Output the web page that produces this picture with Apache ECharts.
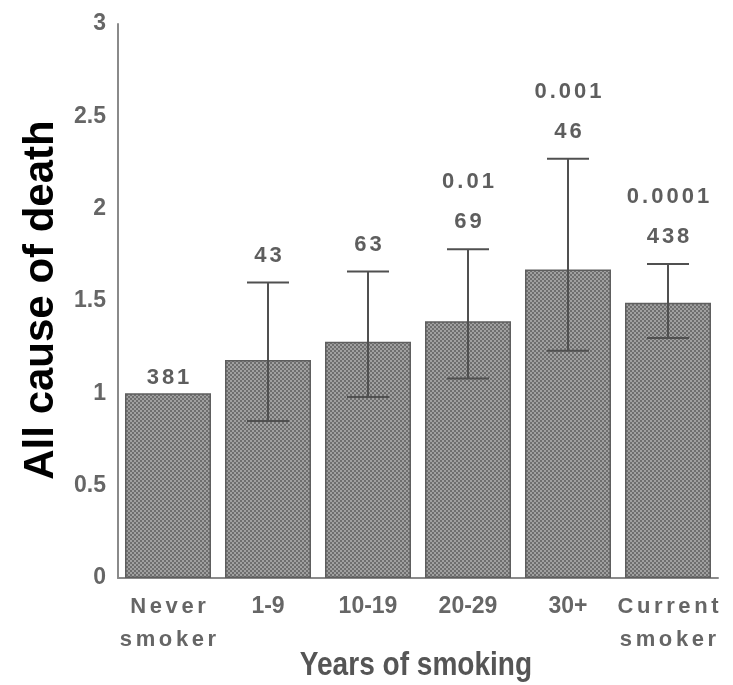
<!DOCTYPE html>
<html>
<head>
<meta charset="utf-8">
<script src="https://cdn.jsdelivr.net/npm/echarts@6/dist/echarts.min.js"></script>
<style>
  html, body { margin: 0; padding: 0; background: #ffffff; }
  #chart { width: 733px; height: 685px; }
</style>
</head>
<body>
<div id="chart"></div>
<script>
// Relative risk of all-cause death by years of smoking
const categories = ['Never\nsmoker', '1-9', '10-19', '20-29', '30+', 'Current\nsmoker'];
const ratios  = [1.00, 1.18, 1.28, 1.39, 1.67, 1.49];
const ciLower = [null, 0.85, 0.98, 1.08, 1.23, 1.30];
const ciUpper = [null, 1.60, 1.66, 1.78, 2.27, 1.70];
const counts  = ['381', '43', '63', '69', '46', '438'];
const pValues = ['', '', '', '0.01', '0.001', '0.0001'];
const yTicks  = [0, 0.5, 1, 1.5, 2, 2.5, 3];

const LABEL_GREY = '#666666';
const FONT = '"Liberation Sans", Arial, sans-serif';

// Fine halftone screen used as the bar fill
function halftone() {
  const c = document.createElement('canvas');
  c.width = 4; c.height = 4;
  const g = c.getContext('2d');
  g.fillStyle = '#a0a0a0';
  g.fillRect(0, 0, 4, 4);
  g.fillStyle = '#6e6e6e';
  g.fillRect(0, 0, 2, 2);
  g.fillRect(2, 2, 2, 2);
  return c;
}

// Wrap each character in a padded rich token to get the wide letter spacing
function spaced(str, key) {
  return str.split('\n').map(line =>
    line.split('').map(ch => '{' + key + '|' + ch + '}').join('')
  ).join('\n');
}

// Rich styles for the axis labels (ECharts label style keys)
const axisRich = {
  w: { padding: [0, 1.8], fontFamily: FONT, fontWeight: 'bold', fontSize: 22, color: LABEL_GREY, lineHeight: 33 },
  n: { fontFamily: FONT, fontWeight: 'bold', fontSize: 23, color: LABEL_GREY, lineHeight: 33 }
};
// Rich style for the count / p-value annotations (zrender text style keys)
const noteRich = {
  d: { padding: [0, 1.5], fontFamily: FONT, fontWeight: 'bold', fontSize: 22, fill: '#5e5e5e', lineHeight: 24 }
};

const errorData = categories.map((c, i) => [
  i,
  ciLower[i] == null ? '-' : ciLower[i],
  ciUpper[i] == null ? '-' : ciUpper[i],
  ratios[i]
]);

const chart = echarts.init(document.getElementById('chart'), null, { renderer: 'canvas' });

chart.setOption({
  backgroundColor: '#ffffff',
  animation: false,
  grid: { left: 118, right: 15, top: 24, bottom: 107 },
  xAxis: {
    type: 'category',
    data: categories,
    axisLine: { show: true, lineStyle: { color: '#8a8a8a', width: 2 } },
    axisTick: { show: false },
    axisLabel: {
      margin: 12,
      interval: 0,
      formatter: v => v.indexOf('\n') >= 0 ? spaced(v, 'w') : '{n|' + v + '}',
      rich: axisRich
    }
  },
  yAxis: {
    type: 'value',
    min: yTicks[0],
    max: yTicks[yTicks.length - 1],
    interval: yTicks[1] - yTicks[0],
    axisLine: { show: true, lineStyle: { color: '#8a8a8a', width: 2 } },
    axisTick: { show: false },
    splitLine: { show: false },
    axisLabel: {
      margin: 12,
      fontFamily: FONT,
      fontWeight: 'bold',
      fontSize: 23,
      color: LABEL_GREY
    }
  },
  series: [
    {
      type: 'bar',
      data: ratios,
      barCategoryGap: '14%',
      itemStyle: {
        color: { image: halftone(), repeat: 'repeat' },
        borderColor: '#5e5e5e',
        borderWidth: 1.5
      },
      z: 2
    },
    {
      type: 'custom',
      data: errorData,
      z: 5,
      renderItem(params, api) {
        const lo = api.value(1);
        const hi = api.value(2);
        const r = api.value(3);
        const band = api.size([1, 0])[0];
        const half = band * 0.21;
        const children = [];
        const hasCI = !isNaN(lo) && !isNaN(hi);
        let topY;
        if (hasCI) {
          const pLo = api.coord([api.value(0), lo]);
          const pHi = api.coord([api.value(0), hi]);
          const stroke = { stroke: '#505050', lineWidth: 2 };
          children.push(
            { type: 'line', shape: { x1: pHi[0], y1: pHi[1], x2: pLo[0], y2: pLo[1] }, style: stroke },
            { type: 'line', shape: { x1: pHi[0] - half, y1: pHi[1], x2: pHi[0] + half, y2: pHi[1] }, style: stroke },
            { type: 'line', shape: { x1: pLo[0] - half, y1: pLo[1], x2: pLo[0] + half, y2: pLo[1] }, style: stroke }
          );
          topY = pHi[1];
        } else {
          topY = api.coord([api.value(0), r])[1];
        }
        const cx = api.coord([api.value(0), r])[0];
        const idx = params.dataIndex;
        const nY = topY - (hasCI ? 27 : 15);
        children.push({
          type: 'text',
          style: {
            text: spaced(counts[idx], 'd'), rich: noteRich, fill: '#5e5e5e',
            x: cx, y: nY, align: 'center', verticalAlign: 'middle'
          }
        });
        if (pValues[idx]) {
          children.push({
            type: 'text',
            style: {
              text: spaced(pValues[idx], 'd'), rich: noteRich, fill: '#5e5e5e',
              x: cx, y: nY - 40, align: 'center', verticalAlign: 'middle'
            }
          });
        }
        return { type: 'group', children };
      }
    }
  ],
  graphic: [
    {
      type: 'text',
      x: 41, y: 300,
      rotation: Math.PI / 2,
      style: {
        text: 'All cause of death',
        font: 'bold 42px ' + FONT,
        fill: '#000000',
        align: 'center',
        verticalAlign: 'middle'
      }
    },
    {
      type: 'text',
      x: 416, y: 666,
      scaleX: 0.85,
      style: {
        text: 'Years of smoking',
        font: 'bold 33px ' + FONT,
        fill: '#555555',
        align: 'center',
        verticalAlign: 'middle'
      }
    }
  ]
});
</script>
</body>
</html>
